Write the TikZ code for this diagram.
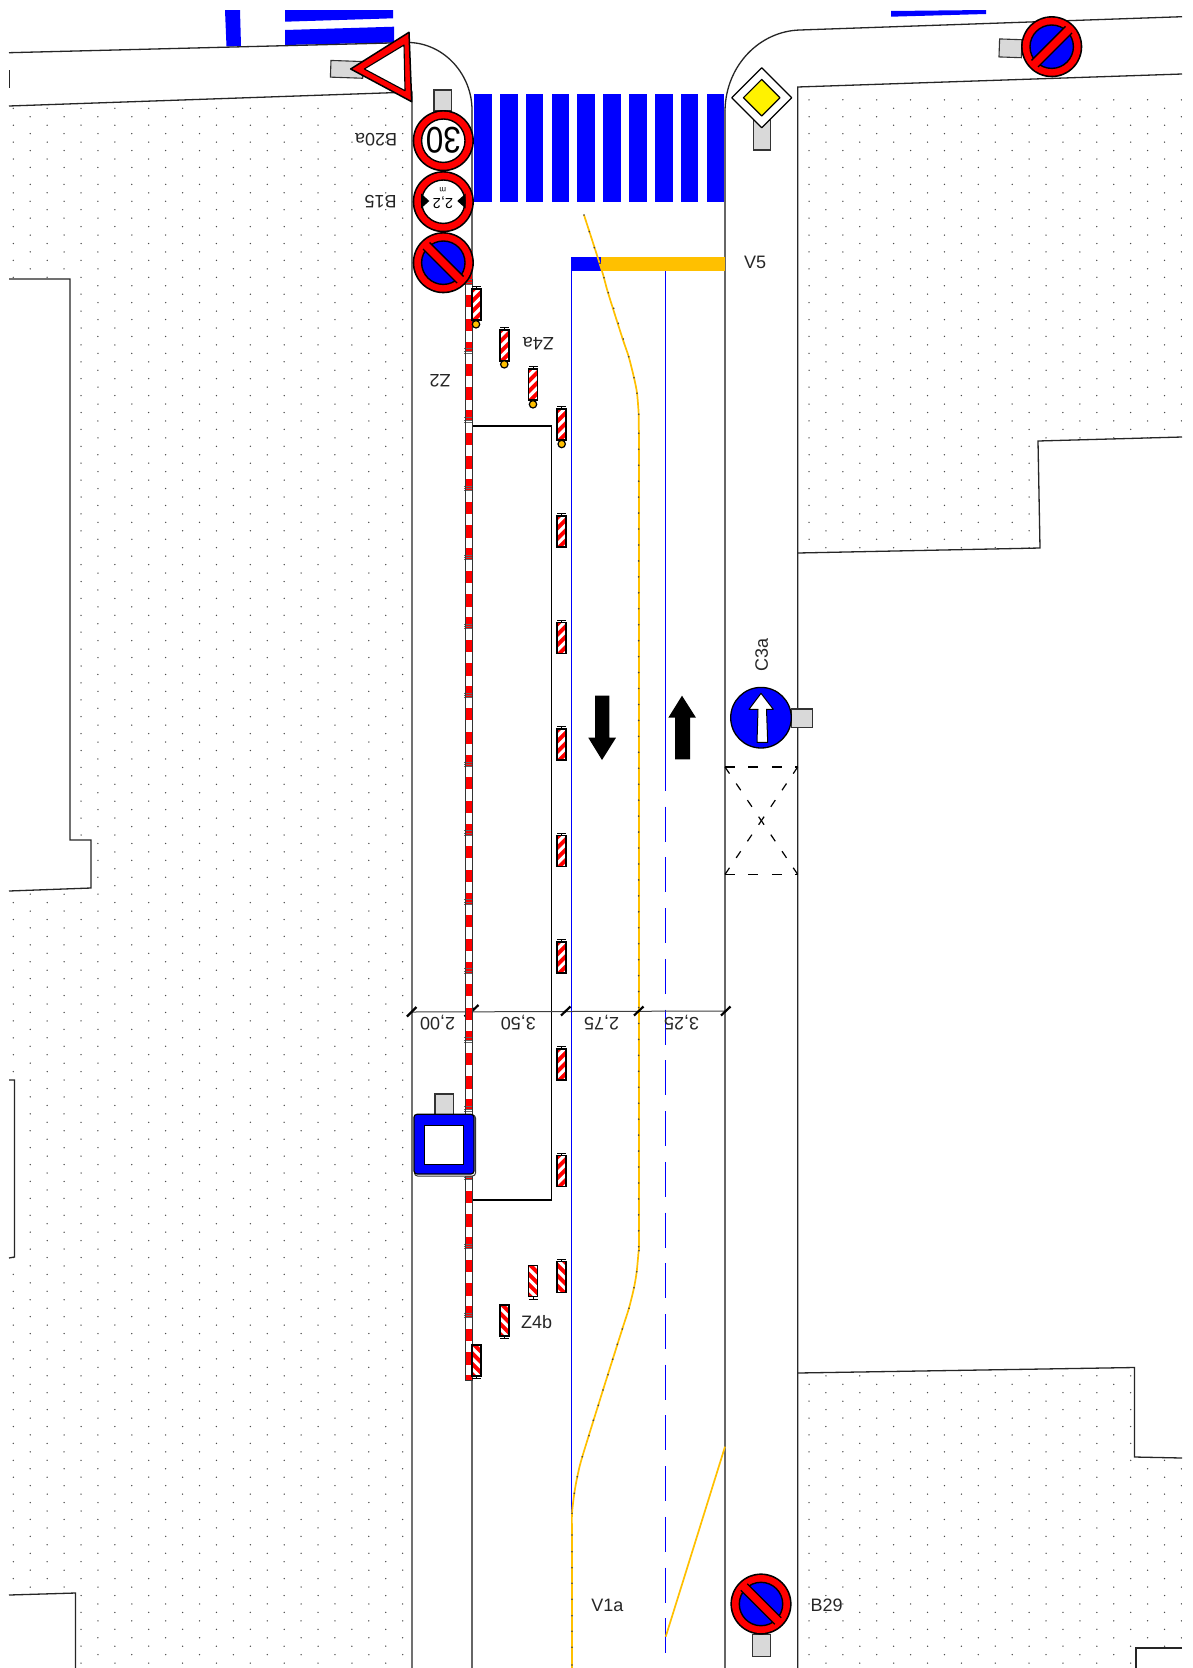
\documentclass[tikz,border=0pt]{standalone}
\usepackage{fontspec}
\setmainfont{Liberation Sans}
\definecolor{amber}{HTML}{FFC000}
\definecolor{postgrey}{HTML}{D9D9D9}
\definecolor{redsign}{HTML}{FF0000}
\definecolor{bluesign}{HTML}{0000FF}
\definecolor{kerbgrey}{HTML}{666666}
\definecolor{labeltext}{HTML}{262626}
\tikzset{
  kerb/.style={draw=black!85,line width=1.3pt},
  kerbsoft/.style={draw=kerbgrey,line width=1.3pt},
  post/.style={draw=black!80,fill=postgrey,line width=1.1pt},
  lab/.style={font=\fontsize{18}{20}\selectfont,text=labeltext,inner sep=0pt},
  flab/.style={lab,rotate=180},
  blueline/.style={draw=bluesign,line width=1.1pt},
  amberline/.style={draw=amber,line width=1.7pt},
  dimtick/.style={draw=black,line width=2.2pt},
  ambdot/.style={fill=black!75},
}
\newcommand{\ringsign}[2]{%
  \fill[black] (#1,#2) circle (30.6);
  \fill[redsign] (#1,#2) circle (29);
}
\newcommand{\beacon}[4]{%
  \begin{scope}[shift={(#1,#2)},xscale=#3,yscale=#4]
    \fill[redsign] (-4.5,-15.5) rectangle (4.5,15.5);
    \begin{scope}
      \clip (-4.5,-15.5) rectangle (4.5,15.5);
      \foreach \s in {-2,-1,0,1,2}
        \fill[white] (-4.5,{\s*10.4+4.2}) -- (4.5,{\s*10.4-4.8}) -- (4.5,{\s*10.4-9.2}) -- (-4.5,{\s*10.4-0.2}) -- cycle;
    \end{scope}
    \draw[black,line width=1.5pt] (-4.5,-15.5) rectangle (4.5,15.5);
    \draw[black,line width=.9pt] (0,-15.5) -- (0,-18) (-4.5,-18) -- (4.5,-18);
  \end{scope}
}
\newcommand{\lamp}[2]{\draw[black,fill=amber,line width=1.2pt] (#1,#2) circle (3.7);}
\begin{document}
\begin{tikzpicture}[x=1pt,y=-1pt]
\useasboundingbox (0,0) rectangle (1192,1668);
\fill[white] (0,0) rectangle (1192,1668);

% dotted ground
\begin{scope}
  \clip (9,106) -- (412,92) -- (412,1668) -- (9,1668) -- cycle
        (797.7,87) -- (1182,74) -- (1182,437) -- (1038,441) -- (1040,548) -- (797.7,553) -- cycle
        (797.7,1373) -- (1134.5,1367.5) -- (1134.5,1457) -- (1182,1458) -- (1182,1648) -- (1136,1648) -- (1136,1668) -- (797.7,1668) -- cycle;
  \foreach \j in {0,...,185} {
    \pgfmathsetmacro\yy{108.3+8.45*\j}
    \pgfmathsetmacro\xo{13.3+16.93*mod(\j,2)}
    \foreach \i in {0,...,34}
      \fill[black!70] ({\xo+33.86*\i},\yy) circle (.75);
  }
  \foreach \j in {-1} {
    \pgfmathsetmacro\yy{108.3+8.45*\j}
    \foreach \i in {23,...,34}
      \fill[black!70] ({30.23+33.86*\i},\yy) circle (.75);
  }
\end{scope}

% buildings on the left
\fill[white] (9,279) -- (70,279) -- (70,840) -- (91,840) -- (91,888) -- (9,891) -- cycle;
\draw[kerb] (9,279) -- (70,279) -- (70,840) -- (91,840) -- (91,888) -- (9,891);
\fill[white] (9,1080) -- (14.5,1080) -- (14.5,1257) -- (9,1258) -- cycle;
\draw[kerb] (9,1080) -- (14.5,1080) -- (14.5,1257) -- (9,1258);
\fill[white] (9,1595) -- (75.5,1593) -- (75.5,1668) -- (9,1668) -- cycle;
\draw[kerb] (9,1595) -- (75.5,1593) -- (75.5,1668);
\draw[kerb] (9.7,70) -- (9.7,88);

% crossing markings at the top
\fill[bluesign] (225,10) -- (240,10) -- (241,46) -- (226.5,46.5) -- cycle;
\fill[bluesign] (285,10) -- (393,10) -- (393,18.3) -- (285,21.7) -- cycle;
\fill[bluesign] (285,30) -- (394,26.7) -- (394,42.5) -- (285,45) -- cycle;
\fill[bluesign] (891,11) -- (986,10) -- (986,14) -- (891,16.7) -- cycle;

% road edges
\draw[kerb] (9,52.7) -- (410,42.5) .. controls (445,44) and (472,75) .. (472,110);
\draw[kerb] (9,106) -- (412,92) -- (412,1668);
\draw[kerbsoft] (472,110) -- (472,1668);
\draw[kerbsoft] (725,110) -- (725,1668);
\draw[kerb] (725,110) .. controls (726,65) and (760,31) .. (800,30) -- (1182,16.7);
\draw[kerb] (1182,74) -- (797.7,87) -- (797.7,1668);
\draw[kerb] (797.7,553) -- (1040,548) -- (1038,441) -- (1182,437);
\draw[kerb] (797.7,1373) -- (1134.5,1367.5) -- (1134.5,1457) -- (1182,1458);
\draw[kerb] (1182,1648) -- (1136,1648) -- (1136,1668);

% zebra crossing
\foreach \sx in {474,499.9,525.7,551.6,577.4,603.3,629.1,655,680.8,706.7}
  \fill[bluesign] (\sx,94) rectangle ({\sx+17.6},202);

% stop bar
\fill[bluesign] (571,257) rectangle (601,271);
\fill[amber] (601,257) rectangle (725,271);

% lane lines
\draw[blueline] (571.7,271) -- (571.7,1668);
\draw[blueline] (665.7,271) -- (665.7,791);
\foreach \k in {0,...,16}
  \draw[blueline] (665.7,{806.7+50.73*\k}) -- (665.7,{841.7+50.73*\k});

% works area
\draw[black,line width=1.2pt] (472,426) -- (551.7,426) -- (551.7,1200) -- (472,1200);

% temporary amber marking
\draw[amberline] plot[smooth,tension=.45] coordinates {(584,215) (601.7,270) (608,292.7) (622.7,339) (628.7,356.7) (634,377.7) (637,393) (638.7,414.3) (638.7,430)};
\draw[amberline] (638.7,430) -- (638.7,1250);
\draw[amberline] plot[smooth,tension=.45] coordinates {(638.7,1250) (636.7,1271.7) (634,1287.7) (629,1308) (622.3,1329) (603,1390) (582.3,1456.7) (577.3,1476.7) (574.3,1493.3) (572,1513.3) (572,1530)};
\draw[amberline] (572,1530) -- (572,1668);
\draw[amberline] (725,1446.7) -- (665.7,1636.7);
\foreach \dx/\dy in {584/215,589.3/231.7,594.3/247.7,600/263.3,604/277.7,608.3/292.7,613.7/308.3,618.3/323.3,623.3/339,628.7/356.7,634/377.7,637/393.3,638.7/414.3,
  639/1250.7,636.7/1271.7,634/1287.7,629/1308.3,622.3/1329,617.3/1344.3,612.7/1359.3,608/1374.7,603/1390,598.3/1405.3,593.3/1420.3,589/1435.7,582.3/1456.7,577.3/1476.7,574.3/1493.3,572/1513.3,572/1535,572/1551.7,572/1567.7,572/1583.3,572/1599.3,572/1615.7,572/1631.3,572/1647.3,572/1665}
  \fill[ambdot] (\dx,\dy) circle (.9);
\foreach \k in {0,...,51}
  \fill[ambdot] (638.7,{433.3+15.95*\k}) circle (.9);

% direction arrows
\fill[black] (595,695.7) -- (609.3,695.7) -- (609.3,737.7) -- (616,737.7) -- (602,760) -- (588.3,737.7) -- (595,737.7) -- cycle;
\fill[black] (682,695.7) -- (696,717.7) -- (690,717.7) -- (690,759.3) -- (675,759.3) -- (675,717.7) -- (668.3,717.7) -- cycle;

% dimension line
\draw[black!75,line width=1pt] (411.7,1012) -- (725.7,1011);
\draw[dimtick] (407,1016.5) -- (416.5,1007) (464.5,1016.5) -- (473.5,1008) (469.5,1013.5) -- (478.5,1005)
  (561,1015.5) -- (570.5,1006.5) (634,1015.5) -- (643.5,1006.5) (721,1015.5) -- (730.5,1006.5);
\node[flab] (d200) at (437.7,1022.7) {2,00};
\node[flab] (d350) at (518.3,1022.7) {3,50};
\node[flab] (d275) at (601.7,1022.7) {2,75};
\node[flab] (d325) at (681.7,1022.7) {3,25};

% barrier
\begin{scope}
  \clip (464,250) rectangle (473,1380.7);
  \fill[white] (465,250) rectangle (472,1380.7);
  \foreach \k in {-1,0,...,15} {
    \pgfmathsetmacro\st{279.5+68.9*\k}
    \fill[redsign] (465,\st) rectangle (472,\st+4);
    \fill[redsign] (465,\st+15.5) rectangle (472,\st+27.5);
    \fill[redsign] (465,\st+39) rectangle (472,\st+51.5);
    \fill[redsign] (465,\st+62) rectangle (472,\st+69);
    \draw[black!60,line width=.6pt] (464,\st) -- (473,\st) (464,\st+2.5) -- (473,\st+2.5) (464,\st+4.5) -- (473,\st+4.5);
  }
\end{scope}
\draw[black!80,line width=1pt] (465,279) -- (465,1380.7) -- (472,1380.7) -- (472,279);

% beacons
\beacon{476.3}{304.7}{1}{1}\lamp{476}{324.3}
\beacon{504.3}{345.3}{1}{1}\lamp{504.3}{364.3}
\beacon{533}{384.5}{1}{1}\lamp{533}{404.3}
\beacon{561.7}{424.7}{1}{1}\lamp{561.7}{444}
\foreach \cy in {531.6,638,744.6,851,957.6,1064.5,1171} {
  \beacon{561.7}{\cy}{1}{1}
}
\beacon{561.7}{1277}{-1}{1}
\beacon{533}{1281}{1}{-1}
\beacon{504.7}{1320.5}{1}{-1}
\beacon{476.7}{1360.5}{1}{-1}

% yield sign
\draw[post,rotate around={-2:(347,69)}] (330.7,61) rectangle (363,77.7);
\draw[black,fill=redsign,line width=1.5pt,line join=round] (409,32.3) -- (411.7,101.7) -- (350.7,69) -- cycle;
\draw[black,fill=white,line width=1.1pt,line join=round] (404,45) -- (405,90.7) -- (364.3,69) -- cycle;

% speed limit sign
\draw[post] (434,90) rectangle (451.7,111);
\ringsign{443.3}{140.7}
\draw[black,fill=white,line width=1.4pt] (443.3,140.7) circle (21.7);
\node[inner sep=0pt,rotate=180,xscale=.85,font=\fontsize{37}{37}\selectfont,text=black] (speed) at (443.3,140.7) {30};

% width limit sign
\ringsign{443.3}{201.7}
\draw[black,fill=white,line width=1.4pt] (443.3,201.7) circle (21.7);
\fill[black] (429.3,201) -- (421,193.5) -- (421,208.5) -- cycle;
\fill[black] (457.3,201) -- (465.6,193.5) -- (465.6,208.5) -- cycle;
\node[inner sep=0pt,rotate=180,font=\fontsize{14.5}{15}\selectfont,text=black] (width) at (443,203) {2,2};
\node[inner sep=0pt,rotate=180,font=\fontsize{8}{8}\selectfont,text=black] (widthm) at (442.7,189.5) {m};

% no parking signs
\draw[post,rotate around={-2:(1010,48)}] (999.3,39.3) rectangle (1021.7,57.3);
\draw[post] (752.3,1634.5) rectangle (770.7,1656.7);
\foreach \cx/\cy/\dd in {443.3/262.7/1,1051.7/46.7/-1,761/1604/1} {
  \ringsign{\cx}{\cy}
  \draw[black,fill=bluesign,line width=1.4pt] (\cx,\cy) circle (21.7);
  \draw[black,line width=10.5pt] ({\cx-\dd*17},{\cy-17}) -- ({\cx+\dd*17},{\cy+17});
  \draw[redsign,line width=7.6pt] ({\cx-\dd*20},{\cy-20}) -- ({\cx+\dd*20},{\cy+20});
}

% priority road sign
\draw[post] (753.3,120) rectangle (770.7,150);
\draw[black,fill=white,line width=1.2pt,line join=round] (761.7,67.7) -- (791.7,97.7) -- (761.7,127.7) -- (731.7,97.7) -- cycle;
\draw[black,fill=yellow,line width=1.2pt,line join=round] (761.7,79.4) -- (780,97.7) -- (761.7,116) -- (743.4,97.7) -- cycle;

% mandatory direction sign
\draw[post] (791.7,709) rectangle (812.3,727.3);
\draw[black,fill=bluesign,line width=1.3pt] (761,717.7) circle (30.3);
\draw[black,fill=white,line width=1pt,line join=round] (761,693.3) -- (773.3,709.3) -- (766.5,709.3) -- (767.7,742.3) -- (757,742.3) -- (758,709.3) -- (749,709.3) -- cycle;

% deviation box
\draw[black,line width=1.1pt,dash pattern=on 10pt off 13.4pt] (725,767) -- (797.7,767);
\draw[black,line width=1.1pt,dash pattern=on 10pt off 13.4pt] (725,874.4) -- (797.7,874.4);
\foreach \px/\py in {725/767,797.7/767,725/874.4,797.7/874.4}
  \draw[black,line width=1.2pt,dash pattern=on 8pt off 12pt] (\px,\py) -- (761.35,820.7);

% panel sign
\draw[post] (435,1094) rectangle (453.3,1114.3);
\draw[black!80,fill=white,line width=1pt,rounded corners=3pt] (414.5,1115) rectangle (475.5,1176);
\draw[black,fill=bluesign,line width=1.2pt,rounded corners=3pt] (414,1114.3) rectangle (474,1174);
\draw[black,fill=white,line width=1pt] (424.3,1125) rectangle (463.3,1164.3);

% labels
\node[flab] (b20a) at (376,140) {B20a};
\node[flab] (b15) at (380.7,201.7) {B15};
\node[flab] (z4a) at (538.3,344) {Z4a};
\node[flab] (z2) at (440,381) {Z2};
\node[lab] (v5) at (755,262.7) {V5};
\node[lab,rotate=90] (c3a) at (761.7,655) {C3a};
\node[lab] (z4b) at (536.7,1322.3) {Z4b};
\node[lab] (v1a) at (607.3,1605) {V1a};
\node[lab] (b29) at (826.7,1605) {B29};
\end{tikzpicture}
\end{document}
